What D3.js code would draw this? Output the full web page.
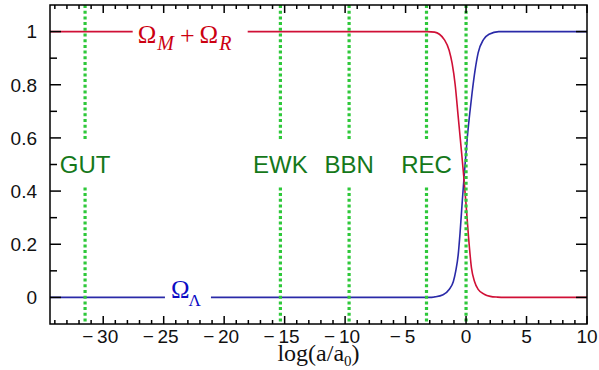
<!DOCTYPE html>
<html>
<head>
<meta charset="utf-8">
<script src="https://cdn.jsdelivr.net/npm/d3@7"></script>
<style>
  html, body { margin: 0; padding: 0; background: #fff; }
  svg { display: block; }
</style>
</head>
<body>
<div id="chart"></div>
<script>
// matter + radiation density parameter
const matterX = [-34.4, -3.2, -2.6, -2.2, -1.8, -1.4, -1.15, -0.9, -0.65, -0.4, -0.2, 0, 0.2, 0.45, 0.7, 1.0, 1.5, 2.0, 2.6, 3.2, 10];
const matterY = [1, 1, 0.998, 0.99, 0.97, 0.93, 0.88, 0.8, 0.68, 0.56, 0.46, 0.35, 0.23, 0.11, 0.06, 0.03, 0.012, 0.004, 0.001, 0, 0];

// vacuum density parameter
const lambdaX = [-34.4, -3, -2.6, -1.9, -1.4, -1.05, -0.85, -0.65, -0.5, -0.3, -0.1, 0.1, 0.3, 0.5, 0.75, 1.0, 1.44, 1.9, 2.7, 10];
const lambdaY = [0, 0, 0.002, 0.01, 0.03, 0.06, 0.1, 0.16, 0.24, 0.37, 0.49, 0.6, 0.69, 0.77, 0.856, 0.92, 0.97, 0.99, 1, 1];

// epochs (vertical dotted lines)
const epochX = [-31.5, -15.35, -9.67, -3.27, 0];
const epochNames = ["GUT", "EWK", "BBN", "REC", ""];

const xMajorTicks = [-30, -25, -20, -15, -10, -5, 0, 5, 10];
const yMajorTicks = [0, 0.2, 0.4, 0.6, 0.8, 1];

const W = 599, H = 370;
const plotLeft = 50, plotRight = 587, plotTop = 5, plotBottom = 324;

const svg = d3.select("#chart").append("svg")
  .attr("width", W).attr("height", H);

const x = d3.scaleLinear().domain([-34.4, 10]).range([plotLeft, plotRight]);
const y = d3.scaleLinear().domain([-0.1, 1.1]).range([plotBottom, plotTop]);

const sans = "'Liberation Sans', Arial, Helvetica, sans-serif";
const serif = "'Liberation Serif', 'Times New Roman', serif";

// curves
const line = d3.line().x(d => x(d[0])).y(d => y(d[1])).curve(d3.curveMonotoneX);
const lambdaPts = lambdaX.map((v, i) => [v, lambdaY[i]]);
const matterPts = matterX.map((v, i) => [v, matterY[i]]);

svg.append("path").datum(lambdaPts)
  .attr("d", line).attr("fill", "none")
  .attr("stroke", "#2a2aa8").attr("stroke-width", 1.6);
svg.append("path").datum(matterPts)
  .attr("d", line).attr("fill", "none")
  .attr("stroke", "#d01036").attr("stroke-width", 1.6);

// curve labels (white gap in the line behind them)
const redX = x(-27.15), redY = y(1);
svg.append("rect").attr("x", redX - 5).attr("y", redY - 14)
  .attr("width", 115).attr("height", 28).attr("fill", "#fff");
const redLabel = svg.append("text")
  .attr("x", redX).attr("y", redY + 11)
  .attr("fill", "#cc0011").attr("font-family", serif).attr("font-size", 25);
redLabel.append("tspan").text("Ω");
redLabel.append("tspan").attr("font-size", 20).attr("font-style", "italic")
  .attr("dy", 7).attr("dx", 1).text("M");
redLabel.append("tspan").attr("font-size", 26).attr("dy", -6).attr("dx", 6).text("+");
redLabel.append("tspan").attr("dx", 5).attr("dy", -1).text("Ω");
redLabel.append("tspan").attr("font-size", 20).attr("font-style", "italic")
  .attr("dy", 7).attr("dx", 1).text("R");

const blueX = x(-24.4), blueY = y(0);
svg.append("rect").attr("x", blueX - 6).attr("y", blueY - 14)
  .attr("width", 46).attr("height", 28).attr("fill", "#fff");
const blueLabel = svg.append("text")
  .attr("x", blueX).attr("y", blueY + 1)
  .attr("fill", "#0c0cc4").attr("font-family", serif).attr("font-size", 25);
blueLabel.append("tspan").text("Ω");
blueLabel.append("tspan").attr("font-size", 17).attr("dy", 8).attr("dx", -1).text("Λ");

// epoch lines
const epochs = svg.append("g");
epochX.forEach((v, i) => {
  epochs.append("line")
    .attr("x1", x(v)).attr("x2", x(v))
    .attr("y1", plotTop).attr("y2", plotBottom)
    .attr("stroke", "#2ec83a").attr("stroke-width", 3.2)
    .attr("stroke-dasharray", "3,2.7");
  if (epochNames[i]) {
    const t = epochs.append("text")
      .attr("x", x(v)).attr("y", y(0.5) + 8.6)
      .attr("text-anchor", "middle")
      .attr("fill", "#15781a").attr("font-family", sans).attr("font-size", 24)
      .text(epochNames[i]);
    const bb = t.node().getBBox();
    epochs.insert("rect", () => t.node())
      .attr("x", bb.x - 3).attr("y", y(0.5) - 24)
      .attr("width", bb.width + 6).attr("height", 46)
      .attr("fill", "#fff");
  }
});

// frame
const axes = svg.append("g").attr("stroke", "#000").attr("stroke-width", 1.5);
axes.append("rect")
  .attr("x", plotLeft).attr("y", plotTop)
  .attr("width", plotRight - plotLeft).attr("height", plotBottom - plotTop)
  .attr("fill", "none");

// x ticks, inward on top and bottom
d3.range(-34, 11).forEach(v => {
  const len = v % 5 === 0 ? 8 : 4;
  axes.append("line").attr("x1", x(v)).attr("x2", x(v))
    .attr("y1", plotBottom).attr("y2", plotBottom - len);
  axes.append("line").attr("x1", x(v)).attr("x2", x(v))
    .attr("y1", plotTop).attr("y2", plotTop + len);
});

// y ticks, inward on left and right
d3.range(0, 11).map(i => i / 10).forEach(v => {
  const major = Math.round(v * 10) % 2 === 0;
  const len = major ? 11 : 7;
  axes.append("line").attr("x1", plotLeft).attr("x2", plotLeft + len)
    .attr("y1", y(v)).attr("y2", y(v));
  axes.append("line").attr("x1", plotRight).attr("x2", plotRight - len)
    .attr("y1", y(v)).attr("y2", y(v));
});

// tick labels
svg.append("g").selectAll("text").data(xMajorTicks).join("text")
  .attr("x", d => d < 0 ? x(d) - 3 : x(d))
  .attr("y", 343)
  .attr("text-anchor", "middle")
  .attr("font-family", sans).attr("font-size", 19).attr("fill", "#111")
  .text(d => d < 0 ? "\u2212\u2009" + Math.abs(d) : String(d));

svg.append("g").selectAll("text").data(yMajorTicks).join("text")
  .attr("x", 37)
  .attr("y", d => y(d) + 6.8)
  .attr("text-anchor", "end")
  .attr("font-family", sans).attr("font-size", 19).attr("fill", "#111")
  .text(d => d3.format("~g")(d));

// axis title
const xt = svg.append("text")
  .attr("x", (plotLeft + plotRight) / 2).attr("y", 361)
  .attr("text-anchor", "middle")
  .attr("font-family", serif).attr("font-size", 24).attr("fill", "#111");
xt.append("tspan").text("log(a/a");
xt.append("tspan").attr("font-size", 15).attr("dy", 5).text("0");
xt.append("tspan").attr("dy", -5).text(")");
</script>
</body>
</html>
